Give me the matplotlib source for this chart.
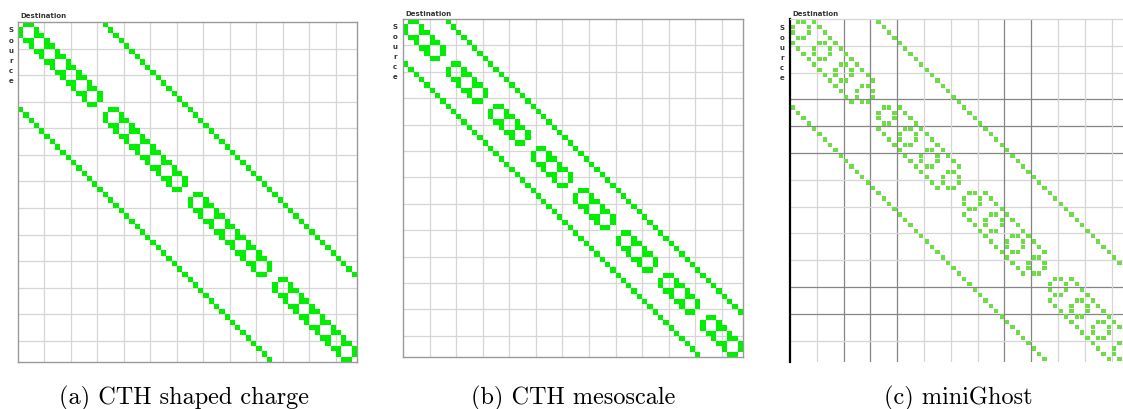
import numpy as np
import matplotlib.pyplot as plt
from matplotlib.colors import ListedColormap
from matplotlib.patches import Rectangle
from matplotlib.collections import PatchCollection

W, H = 1123, 410

# process grids (x fastest) of the three 64-rank runs
dims_a = [2, 8, 4]
dims_b = [2, 4, 8]
dims_c = [2, 2, 4, 4]

captions = ["(a) CTH shaped charge", "(b) CTH mesoscale", "(c) miniGhost"]
source_label = "Source"
dest_label = "Destination"

# miniGhost view: grid lines (every 5 ranks) that are drawn darker
dark_v_c = [2, 3, 4, 8, 9]
dark_h_c = [3, 4, 5, 10, 11]


def comm_matrix(dims):
    # nearest neighbour exchange on a cartesian process grid
    n = int(np.prod(dims))
    m = np.zeros((n, n))
    stride = 1
    for d in dims:
        for r in range(n):
            c = (r // stride) % d
            if c > 0:
                m[r, r - stride] = 1
            if c < d - 1:
                m[r, r + stride] = 1
        stride *= d
    return m


def add_panel(fig, box, mat, color, inset=0.0, dark_v=(), dark_h=(), style="box"):
    x0, y0, x1, y1 = box
    ax = fig.add_axes([x0 / W, 1 - y1 / H, (x1 - x0) / W, (y1 - y0) / H])
    n = mat.shape[0]
    ax.set_xlim(0, n)
    ax.set_ylim(n, 0)
    ax.set_xticks([])
    ax.set_yticks([])
    for i, k in enumerate(range(5, n, 5), start=1):
        cv = "#858585" if i in dark_v else "#d6d6d6"
        ch = "#858585" if i in dark_h else "#d6d6d6"
        ax.axvline(k, color=cv, lw=0.9, zorder=1)
        ax.axhline(k, color=ch, lw=0.9, zorder=1)
    if inset > 0:
        rows, cols = np.nonzero(mat)
        cells = [Rectangle((c + inset, r + inset), 1 - 2 * inset, 1 - 2 * inset)
                 for r, c in zip(rows, cols)]
        ax.add_collection(PatchCollection(cells, facecolor=color,
                                          edgecolor="none", zorder=2))
    else:
        masked = np.ma.masked_equal(mat, 0)
        ax.pcolormesh(np.arange(n + 1), np.arange(n + 1), masked,
                      cmap=ListedColormap([color]), zorder=2)
    if style == "box":
        for s in ax.spines.values():
            s.set_color("#9a9a9a")
            s.set_linewidth(1.0)
    else:
        for name, s in ax.spines.items():
            s.set_visible(name in ("left", "top"))
        ax.spines["left"].set_color("black")
        ax.spines["left"].set_linewidth(1.6)
        ax.spines["top"].set_color("#d6d6d6")
        ax.spines["top"].set_linewidth(0.9)
    return ax


def labels(fig, dest_xy, src_x, src_y0, src_step):
    fig.text(dest_xy[0] / W, 1 - dest_xy[1] / H, dest_label, fontsize=5,
             fontweight="bold", color="#333333", ha="left", va="center")
    for j, ch in enumerate(source_label):
        fig.text(src_x / W, 1 - (src_y0 + j * src_step) / H, ch, fontsize=5,
                 fontweight="bold", color="#333333", ha="center", va="center")


fig = plt.figure(figsize=(W / 100, H / 100), dpi=100)

add_panel(fig, (18, 23, 357, 363), comm_matrix(dims_a), "#00ee00")
add_panel(fig, (403, 20, 743, 358), comm_matrix(dims_b), "#00ee00")
add_panel(fig, (790, 20, 1133, 363), comm_matrix(dims_c), "#6edc44",
          inset=0.1, dark_v=dark_v_c, dark_h=dark_h_c, style="open")

labels(fig, (20, 16.5), 11, 30.5, 10.1)
labels(fig, (405, 13.5), 395, 27, 10.1)
labels(fig, (792, 13.5), 782, 28, 10.1)

cap_x = [184, 573, 958]
for cx, txt in zip(cap_x, captions):
    fig.text(cx / W, 1 - 398 / H, txt, fontsize=17.5, family="cmr10",
             ha="center", va="center")

fig.savefig("out.png", dpi=100)
